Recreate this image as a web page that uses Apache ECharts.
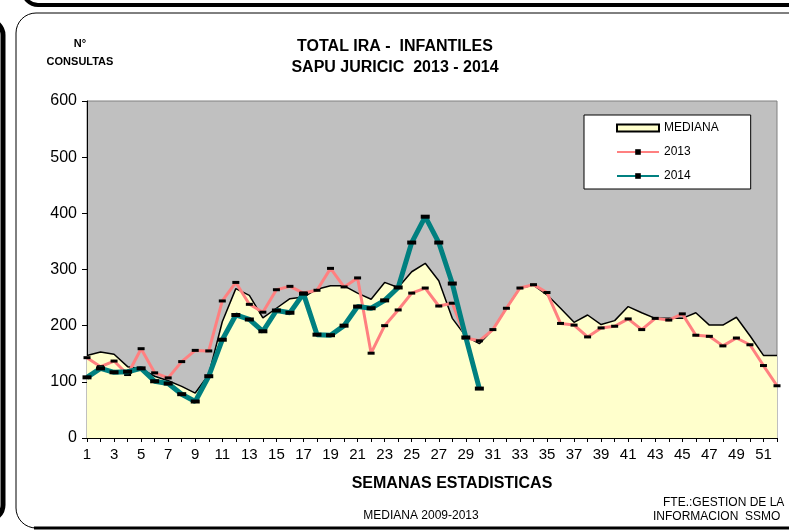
<!DOCTYPE html>
<html>
<head>
<meta charset="utf-8">
<script src="https://cdn.jsdelivr.net/npm/echarts@6/dist/echarts.min.js"></script>
<style>
	html, body { margin: 0; padding: 0; background: #fff; }
	#chart { width: 789px; height: 531px; }
</style>
</head>
<body>
<div id="chart"></div>
<script>
// semanas estadisticas 1..52
var semanas = [];
for (var i = 1; i <= 52; i++) {
	semanas.push(String(i));
}

// mediana 2009-2013
var mediana = [147, 153, 149, 127, 123, 110, 102, 92, 80, 113,
	207, 266, 254, 214, 231, 248, 251, 265, 271, 271,
	258, 247, 277, 268, 296, 311, 280, 213, 181, 168,
	193, 231, 267, 272, 255, 231, 206, 219, 202, 209,
	234, 223, 213, 213, 213, 223, 201, 201, 215, 182,
	147, 147];

var anio2013 = [143, 127, 137, 113, 159, 116, 107, 136, 156, 155,
	244, 277, 238, 224, 264, 270, 258, 263, 302, 269,
	285, 151, 200, 228, 258, 267, 235, 240, 178, 173,
	193, 231, 267, 273, 259, 204, 201, 180, 196, 199,
	212, 193, 213, 210, 221, 183, 181, 164, 178, 166,
	129, 93];

// 2014 solo hasta la semana 30
var anio2014 = [108, 124, 117, 118, 124, 101, 97, 78, 65, 110,
	175, 219, 211, 190, 227, 223, 257, 184, 183, 200,
	234, 231, 245, 268, 348, 394, 348, 275, 179, 88];

var yTicks = { min: 0, max: 600, interval: 100 };

var font = 'Liberation Sans, Arial, sans-serif';
var chart = echarts.init(document.getElementById('chart'));

var option = {
	backgroundColor: '#fff',
	animation: false,
	textStyle: { fontFamily: font },
	title: {
		text: 'TOTAL IRA -  INFANTILES\nSAPU JURICIC  2013 - 2014',
		left: 390,
		top: 31,
		textAlign: 'center',
		textStyle: { fontFamily: font, fontSize: 16, fontWeight: 'bold', color: '#000', lineHeight: 21 }
	},
	legend: {
		orient: 'vertical',
		left: 584,
		top: 115,
		padding: [7, 32, 7, 32],
		itemGap: 12,
		itemWidth: 42,
		itemHeight: 7,
		backgroundColor: '#fff',
		borderColor: '#000',
		borderWidth: 1,
		borderRadius: 0,
		textStyle: { fontFamily: font, fontSize: 12, color: '#000' },
		data: [
			{ name: 'MEDIANA', icon: 'rect', itemStyle: { color: '#FFFFCC', borderColor: '#000', borderWidth: 2 } },
			{ name: '2013' },
			{ name: '2014' }
		]
	},
	grid: {
		left: 87,
		right: 12,
		top: 101,
		bottom: 93,
		show: true,
		backgroundColor: '#C0C0C0',
		borderColor: '#808080',
		borderWidth: 1
	},
	xAxis: {
		type: 'category',
		data: semanas,
		boundaryGap: false,
		axisLine: { lineStyle: { color: '#000', width: 1 } },
		axisTick: { interval: 0, length: 4, lineStyle: { color: '#000' } },
		axisLabel: { interval: 1, fontSize: 15, color: '#000', margin: 9 },
		splitLine: { show: false }
	},
	yAxis: {
		type: 'value',
		min: yTicks.min,
		max: yTicks.max,
		interval: yTicks.interval,
		axisLine: { show: true, lineStyle: { color: '#000', width: 1 } },
		axisTick: { show: true, length: 5, lineStyle: { color: '#000' } },
		axisLabel: { fontSize: 16, color: '#000', margin: 10 },
		splitLine: { show: false }
	},
	series: [{
		name: 'MEDIANA',
		type: 'line',
		data: mediana,
		symbol: 'none',
		itemStyle: { color: '#FFFFCC', borderColor: '#000' },
		lineStyle: { color: '#000', width: 1.5 },
		areaStyle: { color: '#FFFFCC', opacity: 1 },
		z: 1
	}, {
		name: '2013',
		type: 'line',
		data: anio2013,
		symbol: 'rect',
		symbolSize: [7, 3],
		itemStyle: { color: '#000' },
		lineStyle: { color: '#FF8080', width: 3 },
		z: 2
	}, {
		name: '2014',
		type: 'line',
		data: anio2014,
		symbol: 'rect',
		symbolSize: [9, 4],
		itemStyle: { color: '#000' },
		lineStyle: { color: '#008080', width: 5 },
		z: 3
	}],
	graphic: [
		// marcos redondeados
		{ type: 'rect', shape: { x: 16, y: 13, width: 820, height: 515, r: 20 }, style: { fill: 'none', stroke: '#000', lineWidth: 1 }, silent: true },
		{ type: 'line', shape: { x1: 34, y1: 528, x2: 789, y2: 528 }, style: { stroke: '#000', lineWidth: 3 }, silent: true },
		{ type: 'rect', shape: { x: 23, y: -40, width: 820, height: 45, r: 15 }, style: { fill: 'none', stroke: '#000', lineWidth: 4 }, silent: true },
		{ type: 'rect', shape: { x: -40, y: 20, width: 43, height: 500, r: 15 }, style: { fill: 'none', stroke: '#000', lineWidth: 5 }, silent: true },
		// textos
		{ type: 'text', x: 80, y: 35, style: { text: 'N°\nCONSULTAS', align: 'center', font: 'bold 11px ' + font, lineHeight: 18, fill: '#000' } },
		{ type: 'text', x: 452, y: 476, style: { text: 'SEMANAS ESTADISTICAS', align: 'center', font: 'bold 16px ' + font, fill: '#000' } },
		{ type: 'text', x: 421, y: 510, style: { text: 'MEDIANA 2009-2013', align: 'center', font: '12px ' + font, fill: '#000' } },
		{ type: 'text', x: 663, y: 497, style: { text: 'FTE.:GESTION DE LA', font: '12px ' + font, fill: '#000' } },
		{ type: 'text', x: 653, y: 511, style: { text: 'INFORMACION  SSMO', font: '12px ' + font, fill: '#000' } }
	]
};

chart.setOption(option);
</script>
</body>
</html>
